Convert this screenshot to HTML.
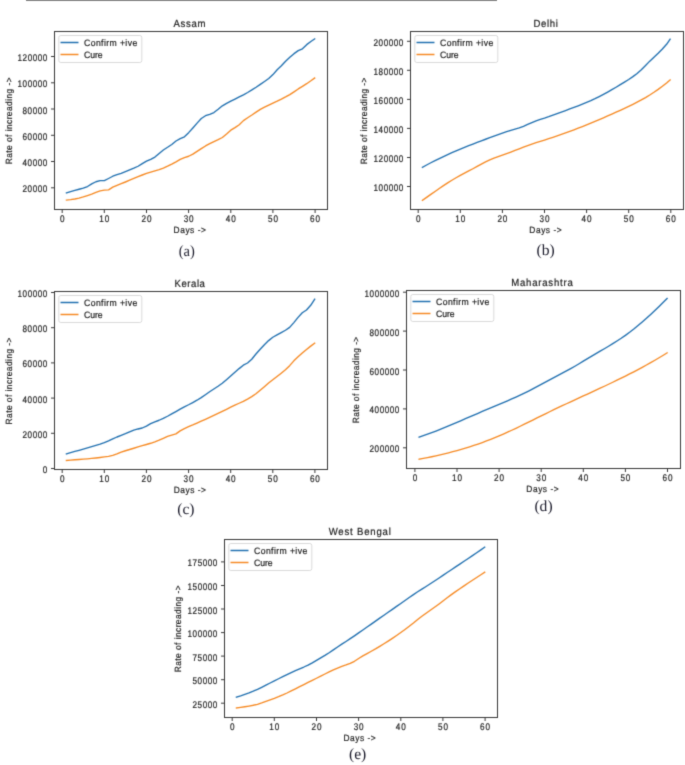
<!DOCTYPE html>
<html><head><meta charset="utf-8"><title>Figure</title>
<style>
html,body{margin:0;padding:0;background:#fff;}
body{width:685px;height:765px;overflow:hidden;}
svg{display:block;text-rendering:geometricPrecision;}
text{font-family:"Liberation Sans", sans-serif;fill:#222;stroke:#222;stroke-width:0.2px;}
.cap{font-family:"Liberation Serif", serif;fill:#1a1a2a;stroke:none;}
</style></head>
<body>
<svg width="685" height="765" viewBox="0 0 685 765">
<defs><filter id="soft" x="0" y="0" width="685" height="765" filterUnits="userSpaceOnUse" color-interpolation-filters="sRGB"><feConvolveMatrix order="3" kernelMatrix="0.0192 0.1001 0.0192 0.1001 0.5228 0.1001 0.0192 0.1001 0.0192" divisor="1" edgeMode="duplicate" preserveAlpha="true"/></filter></defs>
<g filter="url(#soft)" id="root">
<rect x="0" y="0" width="685" height="765" fill="#fff"/>
<line x1="26" y1="0.5" x2="497" y2="0.5" stroke="#7f7f7f" stroke-width="1.1"/>
<g id="pa">
<polyline points="66.42,192.85 70.63,191.61 74.84,190.37 79.06,189.27 83.28,188.12 87.49,186.51 91.71,183.85 95.92,181.75 100.13,180.70 104.35,180.67 108.56,178.51 112.78,176.23 117.00,174.66 121.21,173.27 125.43,171.62 129.64,169.88 133.86,168.18 138.07,166.26 142.29,163.58 146.50,161.15 150.72,159.33 154.93,157.05 159.14,153.40 163.36,149.95 167.57,147.29 171.79,144.44 176.00,140.97 180.22,138.57 184.44,136.80 188.65,132.67 192.87,127.97 197.08,123.13 201.30,118.54 205.51,115.71 209.73,114.33 213.94,112.56 218.15,109.31 222.37,105.82 226.58,103.34 230.80,101.17 235.01,99.03 239.23,96.97 243.44,94.81 247.66,92.47 251.88,89.94 256.09,87.22 260.31,84.33 264.52,81.47 268.74,78.52 272.95,74.59 277.17,69.75 281.38,65.81 285.59,61.30 289.81,57.33 294.02,53.66 298.24,50.67 302.45,48.83 306.67,44.66 310.88,41.51 314.70,38.90" fill="none" stroke="#2170b0" stroke-width="1.35" stroke-linejoin="round" stroke-linecap="square"/>
<polyline points="66.42,200.07 70.63,199.65 74.84,199.03 79.06,198.08 83.28,196.91 87.49,195.53 91.71,194.08 95.92,192.41 100.13,190.89 104.35,190.18 108.56,189.83 112.78,187.19 117.00,185.29 121.21,183.70 125.43,182.00 129.64,180.23 133.86,178.46 138.07,176.72 142.29,175.00 146.50,173.43 150.72,172.09 154.93,170.88 159.14,169.60 163.36,168.09 167.57,166.22 171.79,164.15 176.00,161.86 180.22,159.44 184.44,157.59 188.65,156.24 192.87,154.14 197.08,151.32 201.30,148.60 205.51,145.95 209.73,143.72 213.94,141.68 218.15,139.70 222.37,137.51 226.58,134.01 230.80,130.17 235.01,127.57 239.23,124.81 243.44,120.62 247.66,117.70 251.88,115.01 256.09,112.12 260.31,109.41 264.52,107.14 268.74,105.07 272.95,103.09 277.17,101.20 281.38,99.16 285.59,96.96 289.81,94.57 294.02,91.82 298.24,88.94 302.45,86.33 306.67,83.69 310.88,80.79 314.70,78.00" fill="none" stroke="#f68a24" stroke-width="1.35" stroke-linejoin="round" stroke-linecap="square"/>
<rect x="54.5" y="31.5" width="273.0" height="178.0" fill="none" stroke="#383838" stroke-width="1"/>
<line x1="62.2" y1="209.5" x2="62.2" y2="213.0" stroke="#383838" stroke-width="1"/>
<text transform="translate(62.20,222.00) scale(0.85,1)" text-anchor="middle" font-size="9.6" textLength="5.86" lengthAdjust="spacing">0</text>
<line x1="104.3" y1="209.5" x2="104.3" y2="213.0" stroke="#383838" stroke-width="1"/>
<text transform="translate(104.35,222.00) scale(0.85,1)" text-anchor="middle" font-size="9.6" textLength="11.72" lengthAdjust="spacing">10</text>
<line x1="146.5" y1="209.5" x2="146.5" y2="213.0" stroke="#383838" stroke-width="1"/>
<text transform="translate(146.50,222.00) scale(0.85,1)" text-anchor="middle" font-size="9.6" textLength="11.72" lengthAdjust="spacing">20</text>
<line x1="188.6" y1="209.5" x2="188.6" y2="213.0" stroke="#383838" stroke-width="1"/>
<text transform="translate(188.65,222.00) scale(0.85,1)" text-anchor="middle" font-size="9.6" textLength="11.72" lengthAdjust="spacing">30</text>
<line x1="230.8" y1="209.5" x2="230.8" y2="213.0" stroke="#383838" stroke-width="1"/>
<text transform="translate(230.80,222.00) scale(0.85,1)" text-anchor="middle" font-size="9.6" textLength="11.72" lengthAdjust="spacing">40</text>
<line x1="272.9" y1="209.5" x2="272.9" y2="213.0" stroke="#383838" stroke-width="1"/>
<text transform="translate(272.95,222.00) scale(0.85,1)" text-anchor="middle" font-size="9.6" textLength="11.72" lengthAdjust="spacing">50</text>
<line x1="315.1" y1="209.5" x2="315.1" y2="213.0" stroke="#383838" stroke-width="1"/>
<text transform="translate(315.10,222.00) scale(0.85,1)" text-anchor="middle" font-size="9.6" textLength="11.72" lengthAdjust="spacing">60</text>
<line x1="51.0" y1="187.8" x2="54.5" y2="187.8" stroke="#383838" stroke-width="1"/>
<text transform="translate(47.40,192.30) scale(0.85,1)" text-anchor="end" font-size="9.6" textLength="29.29" lengthAdjust="spacing">20000</text>
<line x1="51.0" y1="161.5" x2="54.5" y2="161.5" stroke="#383838" stroke-width="1"/>
<text transform="translate(47.40,166.04) scale(0.85,1)" text-anchor="end" font-size="9.6" textLength="29.29" lengthAdjust="spacing">40000</text>
<line x1="51.0" y1="135.3" x2="54.5" y2="135.3" stroke="#383838" stroke-width="1"/>
<text transform="translate(47.40,139.78) scale(0.85,1)" text-anchor="end" font-size="9.6" textLength="29.29" lengthAdjust="spacing">60000</text>
<line x1="51.0" y1="109.0" x2="54.5" y2="109.0" stroke="#383838" stroke-width="1"/>
<text transform="translate(47.40,113.52) scale(0.85,1)" text-anchor="end" font-size="9.6" textLength="29.29" lengthAdjust="spacing">80000</text>
<line x1="51.0" y1="82.8" x2="54.5" y2="82.8" stroke="#383838" stroke-width="1"/>
<text transform="translate(47.40,87.26) scale(0.85,1)" text-anchor="end" font-size="9.6" textLength="35.15" lengthAdjust="spacing">100000</text>
<line x1="51.0" y1="56.5" x2="54.5" y2="56.5" stroke="#383838" stroke-width="1"/>
<text transform="translate(47.40,61.00) scale(0.85,1)" text-anchor="end" font-size="9.6" textLength="35.15" lengthAdjust="spacing">120000</text>
<text transform="translate(189.50,26.60) scale(0.93,1)" text-anchor="middle" font-size="10.3" textLength="34.30" lengthAdjust="spacing">Assam</text>
<text transform="translate(189.75,232.80) scale(0.93,1)" text-anchor="middle" font-size="9.0" textLength="34.73" lengthAdjust="spacing">Days -&gt;</text>
<text transform="translate(11.90,120.85) rotate(-90) scale(0.93,1)" text-anchor="middle" font-size="9.0" textLength="93.33" lengthAdjust="spacing">Rate of increading -&gt;</text>
<rect x="58.8" y="35.5" width="83" height="27" rx="2" fill="#fff" fill-opacity="0.8" stroke="#d0d0d0" stroke-width="0.8"/>
<line x1="60.5" y1="42.5" x2="78.5" y2="42.5" stroke="#2170b0" stroke-width="1.5"/>
<line x1="60.5" y1="54.5" x2="78.5" y2="54.5" stroke="#f68a24" stroke-width="1.5"/>
<text transform="translate(84.10,45.80) scale(0.93,1)" font-size="9.3" textLength="57.10" lengthAdjust="spacing">Confirm +ive</text>
<text transform="translate(84.10,57.90) scale(0.93,1)" font-size="9.3" textLength="19.78" lengthAdjust="spacing">Cure</text>
<text transform="translate(186.70,256.10) scale(0.93,1)" text-anchor="middle" font-size="15.6" class="cap">(a)</text>
</g>
<g id="pb">
<polyline points="422.41,167.35 426.62,165.01 430.83,162.76 435.04,160.60 439.25,158.53 443.46,156.52 447.67,154.58 451.88,152.71 456.09,150.89 460.30,149.13 464.51,147.41 468.72,145.72 472.93,144.07 477.14,142.45 481.35,140.84 485.56,139.25 489.77,137.67 493.98,136.09 498.19,134.53 502.40,133.03 506.61,131.61 510.82,130.31 515.03,129.15 519.24,127.91 523.45,126.32 527.66,124.47 531.87,122.57 536.08,120.79 540.29,119.30 544.50,118.04 548.71,116.66 552.92,115.14 557.13,113.58 561.34,112.04 565.55,110.51 569.76,108.97 573.97,107.41 578.18,105.81 582.39,104.16 586.60,102.43 590.81,100.60 595.02,98.65 599.23,96.56 603.44,94.36 607.65,92.05 611.86,89.66 616.07,87.21 620.28,84.70 624.49,82.15 628.70,79.51 632.91,76.65 637.12,73.42 641.33,69.69 645.54,65.45 649.75,61.15 653.96,57.14 658.17,53.21 662.38,49.07 666.59,44.28 670.10,39.27" fill="none" stroke="#2170b0" stroke-width="1.35" stroke-linejoin="round" stroke-linecap="square"/>
<polyline points="422.41,200.38 426.62,197.41 430.83,194.42 435.04,191.44 439.25,188.51 443.46,185.64 447.67,182.87 451.88,180.23 456.09,177.74 460.30,175.41 464.51,173.17 468.72,170.97 472.93,168.74 477.14,166.43 481.35,164.09 485.56,161.92 489.77,159.98 493.98,158.24 498.19,156.64 502.40,155.11 506.61,153.60 510.82,152.06 515.03,150.44 519.24,148.79 523.45,147.14 527.66,145.54 531.87,144.03 536.08,142.64 540.29,141.34 544.50,140.05 548.71,138.73 552.92,137.36 557.13,135.94 561.34,134.48 565.55,132.97 569.76,131.43 573.97,129.84 578.18,128.22 582.39,126.56 586.60,124.86 590.81,123.14 595.02,121.38 599.23,119.60 603.44,117.79 607.65,115.96 611.86,114.11 616.07,112.23 620.28,110.34 624.49,108.41 628.70,106.43 632.91,104.37 637.12,102.22 641.33,99.96 645.54,97.56 649.75,95.01 653.96,92.29 658.17,89.39 662.38,86.27 666.59,82.92 670.10,79.94" fill="none" stroke="#f68a24" stroke-width="1.35" stroke-linejoin="round" stroke-linecap="square"/>
<rect x="410.5" y="31.5" width="273.0" height="178.0" fill="none" stroke="#383838" stroke-width="1"/>
<line x1="418.2" y1="209.5" x2="418.2" y2="213.0" stroke="#383838" stroke-width="1"/>
<text transform="translate(418.20,222.00) scale(0.85,1)" text-anchor="middle" font-size="9.6" textLength="5.86" lengthAdjust="spacing">0</text>
<line x1="460.3" y1="209.5" x2="460.3" y2="213.0" stroke="#383838" stroke-width="1"/>
<text transform="translate(460.30,222.00) scale(0.85,1)" text-anchor="middle" font-size="9.6" textLength="11.72" lengthAdjust="spacing">10</text>
<line x1="502.4" y1="209.5" x2="502.4" y2="213.0" stroke="#383838" stroke-width="1"/>
<text transform="translate(502.40,222.00) scale(0.85,1)" text-anchor="middle" font-size="9.6" textLength="11.72" lengthAdjust="spacing">20</text>
<line x1="544.5" y1="209.5" x2="544.5" y2="213.0" stroke="#383838" stroke-width="1"/>
<text transform="translate(544.50,222.00) scale(0.85,1)" text-anchor="middle" font-size="9.6" textLength="11.72" lengthAdjust="spacing">30</text>
<line x1="586.6" y1="209.5" x2="586.6" y2="213.0" stroke="#383838" stroke-width="1"/>
<text transform="translate(586.60,222.00) scale(0.85,1)" text-anchor="middle" font-size="9.6" textLength="11.72" lengthAdjust="spacing">40</text>
<line x1="628.7" y1="209.5" x2="628.7" y2="213.0" stroke="#383838" stroke-width="1"/>
<text transform="translate(628.70,222.00) scale(0.85,1)" text-anchor="middle" font-size="9.6" textLength="11.72" lengthAdjust="spacing">50</text>
<line x1="670.8" y1="209.5" x2="670.8" y2="213.0" stroke="#383838" stroke-width="1"/>
<text transform="translate(670.80,222.00) scale(0.85,1)" text-anchor="middle" font-size="9.6" textLength="11.72" lengthAdjust="spacing">60</text>
<line x1="407.0" y1="186.5" x2="410.5" y2="186.5" stroke="#383838" stroke-width="1"/>
<text transform="translate(403.40,191.00) scale(0.85,1)" text-anchor="end" font-size="9.6" textLength="35.15" lengthAdjust="spacing">100000</text>
<line x1="407.0" y1="157.5" x2="410.5" y2="157.5" stroke="#383838" stroke-width="1"/>
<text transform="translate(403.40,161.96) scale(0.85,1)" text-anchor="end" font-size="9.6" textLength="35.15" lengthAdjust="spacing">120000</text>
<line x1="407.0" y1="128.4" x2="410.5" y2="128.4" stroke="#383838" stroke-width="1"/>
<text transform="translate(403.40,132.92) scale(0.85,1)" text-anchor="end" font-size="9.6" textLength="35.15" lengthAdjust="spacing">140000</text>
<line x1="407.0" y1="99.4" x2="410.5" y2="99.4" stroke="#383838" stroke-width="1"/>
<text transform="translate(403.40,103.88) scale(0.85,1)" text-anchor="end" font-size="9.6" textLength="35.15" lengthAdjust="spacing">160000</text>
<line x1="407.0" y1="70.3" x2="410.5" y2="70.3" stroke="#383838" stroke-width="1"/>
<text transform="translate(403.40,74.84) scale(0.85,1)" text-anchor="end" font-size="9.6" textLength="35.15" lengthAdjust="spacing">180000</text>
<line x1="407.0" y1="41.3" x2="410.5" y2="41.3" stroke="#383838" stroke-width="1"/>
<text transform="translate(403.40,45.80) scale(0.85,1)" text-anchor="end" font-size="9.6" textLength="35.15" lengthAdjust="spacing">200000</text>
<text transform="translate(545.70,26.60) scale(0.93,1)" text-anchor="middle" font-size="10.3" textLength="26.13" lengthAdjust="spacing">Delhi</text>
<text transform="translate(545.50,232.90) scale(0.93,1)" text-anchor="middle" font-size="9.0" textLength="34.73" lengthAdjust="spacing">Days -&gt;</text>
<text transform="translate(367.20,120.90) rotate(-90) scale(0.93,1)" text-anchor="middle" font-size="9.0" textLength="93.33" lengthAdjust="spacing">Rate of increading -&gt;</text>
<rect x="414.8" y="35.5" width="83" height="27" rx="2" fill="#fff" fill-opacity="0.8" stroke="#d0d0d0" stroke-width="0.8"/>
<line x1="416.5" y1="42.5" x2="434.5" y2="42.5" stroke="#2170b0" stroke-width="1.5"/>
<line x1="416.5" y1="54.5" x2="434.5" y2="54.5" stroke="#f68a24" stroke-width="1.5"/>
<text transform="translate(440.10,45.80) scale(0.93,1)" font-size="9.3" textLength="57.10" lengthAdjust="spacing">Confirm +ive</text>
<text transform="translate(440.10,57.90) scale(0.93,1)" font-size="9.3" textLength="19.78" lengthAdjust="spacing">Cure</text>
<text transform="translate(545.70,254.90)" text-anchor="middle" font-size="15.6" class="cap">(b)</text>
</g>
<g id="pc">
<polyline points="66.41,453.86 70.62,452.67 74.84,451.47 79.05,450.28 83.26,449.09 87.47,447.88 91.68,446.64 95.90,445.40 100.11,444.12 104.32,442.69 108.53,440.92 112.74,438.87 116.96,437.00 121.17,435.31 125.38,433.65 129.59,431.84 133.80,430.11 138.02,428.97 142.23,428.00 146.44,426.05 150.65,423.70 154.86,421.85 159.08,420.25 163.29,418.44 167.50,416.26 171.71,413.94 175.92,411.54 180.14,409.08 184.35,406.80 188.56,404.74 192.77,402.53 196.98,400.21 201.20,397.67 205.41,394.75 209.62,391.73 213.83,388.97 218.04,386.26 222.26,383.21 226.47,379.67 230.68,375.99 234.89,372.27 239.10,368.61 243.32,365.18 247.53,363.00 251.74,359.23 255.95,353.98 260.16,349.25 264.38,344.72 268.59,340.60 272.80,337.26 277.01,334.88 281.22,332.55 285.44,330.26 289.65,327.34 293.86,322.60 298.07,317.37 302.28,312.81 306.50,310.00 310.71,305.30 314.70,299.20" fill="none" stroke="#2170b0" stroke-width="1.35" stroke-linejoin="round" stroke-linecap="square"/>
<polyline points="66.41,460.46 70.62,460.13 74.84,459.79 79.05,459.46 83.26,459.13 87.47,458.80 91.68,458.41 95.90,457.98 100.11,457.48 104.32,456.92 108.53,456.31 112.74,455.46 116.96,453.86 121.17,452.08 125.38,450.74 129.59,449.52 133.80,448.26 138.02,446.97 142.23,445.70 146.44,444.50 150.65,443.27 154.86,441.83 159.08,440.20 163.29,438.32 167.50,436.34 171.71,435.08 175.92,433.88 180.14,430.88 184.35,428.56 188.56,426.70 192.77,424.94 196.98,423.06 201.20,421.19 205.41,419.30 209.62,417.37 213.83,415.41 218.04,413.42 222.26,411.39 226.47,409.33 230.68,407.22 234.89,405.15 239.10,403.25 243.32,401.34 247.53,399.14 251.74,396.65 255.95,393.79 260.16,390.25 264.38,386.65 268.59,383.09 272.80,379.78 277.01,376.51 281.22,373.17 285.44,369.73 289.65,365.67 293.86,360.85 298.07,356.80 302.28,353.10 306.50,349.55 310.71,346.15 314.70,343.10" fill="none" stroke="#f68a24" stroke-width="1.35" stroke-linejoin="round" stroke-linecap="square"/>
<rect x="54.5" y="291.5" width="273.0" height="178.0" fill="none" stroke="#383838" stroke-width="1"/>
<line x1="62.2" y1="469.5" x2="62.2" y2="473.0" stroke="#383838" stroke-width="1"/>
<text transform="translate(62.20,482.00) scale(0.85,1)" text-anchor="middle" font-size="9.6" textLength="5.86" lengthAdjust="spacing">0</text>
<line x1="104.3" y1="469.5" x2="104.3" y2="473.0" stroke="#383838" stroke-width="1"/>
<text transform="translate(104.32,482.00) scale(0.85,1)" text-anchor="middle" font-size="9.6" textLength="11.72" lengthAdjust="spacing">10</text>
<line x1="146.4" y1="469.5" x2="146.4" y2="473.0" stroke="#383838" stroke-width="1"/>
<text transform="translate(146.44,482.00) scale(0.85,1)" text-anchor="middle" font-size="9.6" textLength="11.72" lengthAdjust="spacing">20</text>
<line x1="188.6" y1="469.5" x2="188.6" y2="473.0" stroke="#383838" stroke-width="1"/>
<text transform="translate(188.56,482.00) scale(0.85,1)" text-anchor="middle" font-size="9.6" textLength="11.72" lengthAdjust="spacing">30</text>
<line x1="230.7" y1="469.5" x2="230.7" y2="473.0" stroke="#383838" stroke-width="1"/>
<text transform="translate(230.68,482.00) scale(0.85,1)" text-anchor="middle" font-size="9.6" textLength="11.72" lengthAdjust="spacing">40</text>
<line x1="272.8" y1="469.5" x2="272.8" y2="473.0" stroke="#383838" stroke-width="1"/>
<text transform="translate(272.80,482.00) scale(0.85,1)" text-anchor="middle" font-size="9.6" textLength="11.72" lengthAdjust="spacing">50</text>
<line x1="314.9" y1="469.5" x2="314.9" y2="473.0" stroke="#383838" stroke-width="1"/>
<text transform="translate(314.92,482.00) scale(0.85,1)" text-anchor="middle" font-size="9.6" textLength="11.72" lengthAdjust="spacing">60</text>
<line x1="51.0" y1="468.5" x2="54.5" y2="468.5" stroke="#383838" stroke-width="1"/>
<text transform="translate(47.40,473.00) scale(0.85,1)" text-anchor="end" font-size="9.6" textLength="5.86" lengthAdjust="spacing">0</text>
<line x1="51.0" y1="433.3" x2="54.5" y2="433.3" stroke="#383838" stroke-width="1"/>
<text transform="translate(47.40,437.80) scale(0.85,1)" text-anchor="end" font-size="9.6" textLength="29.29" lengthAdjust="spacing">20000</text>
<line x1="51.0" y1="398.1" x2="54.5" y2="398.1" stroke="#383838" stroke-width="1"/>
<text transform="translate(47.40,402.60) scale(0.85,1)" text-anchor="end" font-size="9.6" textLength="29.29" lengthAdjust="spacing">40000</text>
<line x1="51.0" y1="362.9" x2="54.5" y2="362.9" stroke="#383838" stroke-width="1"/>
<text transform="translate(47.40,367.40) scale(0.85,1)" text-anchor="end" font-size="9.6" textLength="29.29" lengthAdjust="spacing">60000</text>
<line x1="51.0" y1="327.7" x2="54.5" y2="327.7" stroke="#383838" stroke-width="1"/>
<text transform="translate(47.40,332.20) scale(0.85,1)" text-anchor="end" font-size="9.6" textLength="29.29" lengthAdjust="spacing">80000</text>
<line x1="51.0" y1="292.5" x2="54.5" y2="292.5" stroke="#383838" stroke-width="1"/>
<text transform="translate(47.40,297.00) scale(0.85,1)" text-anchor="end" font-size="9.6" textLength="35.15" lengthAdjust="spacing">100000</text>
<text transform="translate(189.70,286.50) scale(0.93,1)" text-anchor="middle" font-size="10.3" textLength="32.80" lengthAdjust="spacing">Kerala</text>
<text transform="translate(189.85,492.90) scale(0.93,1)" text-anchor="middle" font-size="9.0" textLength="34.73" lengthAdjust="spacing">Days -&gt;</text>
<text transform="translate(11.70,380.95) rotate(-90) scale(0.93,1)" text-anchor="middle" font-size="9.0" textLength="93.44" lengthAdjust="spacing">Rate of increading -&gt;</text>
<rect x="58.8" y="295.5" width="83" height="27" rx="2" fill="#fff" fill-opacity="0.8" stroke="#d0d0d0" stroke-width="0.8"/>
<line x1="60.5" y1="302.5" x2="78.5" y2="302.5" stroke="#2170b0" stroke-width="1.5"/>
<line x1="60.5" y1="314.5" x2="78.5" y2="314.5" stroke="#f68a24" stroke-width="1.5"/>
<text transform="translate(84.10,305.80) scale(0.93,1)" font-size="9.3" textLength="57.10" lengthAdjust="spacing">Confirm +ive</text>
<text transform="translate(84.10,317.90) scale(0.93,1)" font-size="9.3" textLength="19.78" lengthAdjust="spacing">Cure</text>
<text transform="translate(185.85,514.10)" text-anchor="middle" font-size="15.6" class="cap">(c)</text>
</g>
<g id="pd">
<polyline points="419.11,437.17 423.32,435.72 427.53,434.20 431.74,432.63 435.95,431.01 440.16,429.35 444.37,427.65 448.58,425.91 452.79,424.15 457.00,422.36 461.21,420.55 465.42,418.74 469.63,416.92 473.84,415.09 478.05,413.28 482.26,411.47 486.47,409.67 490.68,407.90 494.89,406.14 499.10,404.39 503.31,402.62 507.52,400.82 511.73,398.99 515.94,397.11 520.15,395.17 524.36,393.15 528.57,391.05 532.78,388.86 536.99,386.62 541.20,384.34 545.41,382.06 549.62,379.79 553.83,377.55 558.04,375.36 562.25,373.17 566.46,370.95 570.67,368.65 574.88,366.25 579.09,363.75 583.30,361.19 587.51,358.62 591.72,356.08 595.93,353.60 600.14,351.15 604.35,348.71 608.56,346.23 612.77,343.69 616.98,341.05 621.19,338.29 625.40,335.36 629.61,332.26 633.82,329.00 638.03,325.58 642.24,322.02 646.45,318.32 650.66,314.49 654.87,310.55 659.08,306.50 663.29,302.35 667.10,298.52" fill="none" stroke="#2170b0" stroke-width="1.35" stroke-linejoin="round" stroke-linecap="square"/>
<polyline points="419.11,459.24 423.32,458.44 427.53,457.61 431.74,456.74 435.95,455.82 440.16,454.87 444.37,453.87 448.58,452.82 452.79,451.72 457.00,450.58 461.21,449.38 465.42,448.12 469.63,446.81 473.84,445.45 478.05,444.02 482.26,442.53 486.47,440.97 490.68,439.35 494.89,437.67 499.10,435.91 503.31,434.08 507.52,432.20 511.73,430.26 515.94,428.27 520.15,426.25 524.36,424.20 528.57,422.13 532.78,420.05 536.99,417.96 541.20,415.87 545.41,413.79 549.62,411.74 553.83,409.70 558.04,407.70 562.25,405.71 566.46,403.74 570.67,401.79 574.88,399.85 579.09,397.91 583.30,395.98 587.51,394.05 591.72,392.11 595.93,390.17 600.14,388.22 604.35,386.25 608.56,384.26 612.77,382.26 616.98,380.22 621.19,378.16 625.40,376.07 629.61,373.95 633.82,371.78 638.03,369.57 642.24,367.31 646.45,365.01 650.66,362.65 654.87,360.23 659.08,357.76 663.29,355.22 667.10,352.86" fill="none" stroke="#f68a24" stroke-width="1.35" stroke-linejoin="round" stroke-linecap="square"/>
<rect x="406.5" y="290.5" width="274.0" height="178.0" fill="none" stroke="#383838" stroke-width="1"/>
<line x1="414.9" y1="468.5" x2="414.9" y2="472.0" stroke="#383838" stroke-width="1"/>
<text transform="translate(414.90,481.00) scale(0.85,1)" text-anchor="middle" font-size="9.6" textLength="5.86" lengthAdjust="spacing">0</text>
<line x1="457.0" y1="468.5" x2="457.0" y2="472.0" stroke="#383838" stroke-width="1"/>
<text transform="translate(457.00,481.00) scale(0.85,1)" text-anchor="middle" font-size="9.6" textLength="11.72" lengthAdjust="spacing">10</text>
<line x1="499.1" y1="468.5" x2="499.1" y2="472.0" stroke="#383838" stroke-width="1"/>
<text transform="translate(499.10,481.00) scale(0.85,1)" text-anchor="middle" font-size="9.6" textLength="11.72" lengthAdjust="spacing">20</text>
<line x1="541.2" y1="468.5" x2="541.2" y2="472.0" stroke="#383838" stroke-width="1"/>
<text transform="translate(541.20,481.00) scale(0.85,1)" text-anchor="middle" font-size="9.6" textLength="11.72" lengthAdjust="spacing">30</text>
<line x1="583.3" y1="468.5" x2="583.3" y2="472.0" stroke="#383838" stroke-width="1"/>
<text transform="translate(583.30,481.00) scale(0.85,1)" text-anchor="middle" font-size="9.6" textLength="11.72" lengthAdjust="spacing">40</text>
<line x1="625.4" y1="468.5" x2="625.4" y2="472.0" stroke="#383838" stroke-width="1"/>
<text transform="translate(625.40,481.00) scale(0.85,1)" text-anchor="middle" font-size="9.6" textLength="11.72" lengthAdjust="spacing">50</text>
<line x1="667.5" y1="468.5" x2="667.5" y2="472.0" stroke="#383838" stroke-width="1"/>
<text transform="translate(667.50,481.00) scale(0.85,1)" text-anchor="middle" font-size="9.6" textLength="11.72" lengthAdjust="spacing">60</text>
<line x1="403.0" y1="447.8" x2="406.5" y2="447.8" stroke="#383838" stroke-width="1"/>
<text transform="translate(399.40,452.30) scale(0.85,1)" text-anchor="end" font-size="9.6" textLength="35.15" lengthAdjust="spacing">200000</text>
<line x1="403.0" y1="408.9" x2="406.5" y2="408.9" stroke="#383838" stroke-width="1"/>
<text transform="translate(399.40,413.40) scale(0.85,1)" text-anchor="end" font-size="9.6" textLength="35.15" lengthAdjust="spacing">400000</text>
<line x1="403.0" y1="370.0" x2="406.5" y2="370.0" stroke="#383838" stroke-width="1"/>
<text transform="translate(399.40,374.50) scale(0.85,1)" text-anchor="end" font-size="9.6" textLength="35.15" lengthAdjust="spacing">600000</text>
<line x1="403.0" y1="331.1" x2="406.5" y2="331.1" stroke="#383838" stroke-width="1"/>
<text transform="translate(399.40,335.60) scale(0.85,1)" text-anchor="end" font-size="9.6" textLength="35.15" lengthAdjust="spacing">800000</text>
<line x1="403.0" y1="292.2" x2="406.5" y2="292.2" stroke="#383838" stroke-width="1"/>
<text transform="translate(399.40,296.70) scale(0.85,1)" text-anchor="end" font-size="9.6" textLength="41.01" lengthAdjust="spacing">1000000</text>
<text transform="translate(542.00,285.80) scale(0.93,1)" text-anchor="middle" font-size="10.3" textLength="66.24" lengthAdjust="spacing">Maharashtra</text>
<text transform="translate(542.50,492.30) scale(0.93,1)" text-anchor="middle" font-size="9.0" textLength="34.73" lengthAdjust="spacing">Days -&gt;</text>
<text transform="translate(359.10,380.05) rotate(-90) scale(0.93,1)" text-anchor="middle" font-size="9.0" textLength="93.12" lengthAdjust="spacing">Rate of increading -&gt;</text>
<rect x="410.8" y="294.5" width="83" height="27" rx="2" fill="#fff" fill-opacity="0.8" stroke="#d0d0d0" stroke-width="0.8"/>
<line x1="412.5" y1="301.5" x2="430.5" y2="301.5" stroke="#2170b0" stroke-width="1.5"/>
<line x1="412.5" y1="313.5" x2="430.5" y2="313.5" stroke="#f68a24" stroke-width="1.5"/>
<text transform="translate(436.10,304.80) scale(0.93,1)" font-size="9.3" textLength="57.10" lengthAdjust="spacing">Confirm +ive</text>
<text transform="translate(436.10,316.90) scale(0.93,1)" font-size="9.3" textLength="19.78" lengthAdjust="spacing">Cure</text>
<text transform="translate(543.50,510.60)" text-anchor="middle" font-size="15.6" class="cap">(d)</text>
</g>
<g id="pe">
<polyline points="236.41,697.15 240.63,695.83 244.84,694.39 249.06,692.85 253.27,691.17 257.49,689.34 261.70,687.27 265.92,685.09 270.13,682.98 274.35,680.87 278.56,678.77 282.78,676.66 287.00,674.59 291.21,672.61 295.43,670.68 299.64,668.80 303.86,667.01 308.07,665.07 312.28,662.81 316.50,660.37 320.71,657.93 324.93,655.43 329.14,652.79 333.36,649.89 337.57,646.96 341.79,644.18 346.00,641.47 350.22,638.68 354.43,635.83 358.65,632.93 362.87,630.01 367.08,627.07 371.29,624.10 375.51,621.13 379.73,618.17 383.94,615.23 388.15,612.29 392.37,609.36 396.58,606.42 400.80,603.47 405.01,600.48 409.23,597.47 413.44,594.57 417.66,591.80 421.88,589.12 426.09,586.47 430.30,583.78 434.52,581.01 438.74,578.21 442.95,575.38 447.16,572.54 451.38,569.71 455.59,566.90 459.81,564.09 464.02,561.28 468.24,558.44 472.45,555.58 476.67,552.71 480.88,549.83 484.70,547.20" fill="none" stroke="#2170b0" stroke-width="1.35" stroke-linejoin="round" stroke-linecap="square"/>
<polyline points="236.41,708.03 240.63,707.44 244.84,706.78 249.06,706.06 253.27,705.27 257.49,704.29 261.70,702.92 265.92,701.35 270.13,699.87 274.35,698.35 278.56,696.71 282.78,694.91 287.00,692.99 291.21,690.95 295.43,688.80 299.64,686.68 303.86,684.57 308.07,682.47 312.28,680.36 316.50,678.25 320.71,676.13 324.93,674.00 329.14,671.95 333.36,669.95 337.57,668.05 341.79,666.40 346.00,664.94 350.22,663.36 354.43,661.29 358.65,658.46 362.87,655.92 367.08,653.57 371.29,651.25 375.51,648.87 379.73,646.34 383.94,643.75 388.15,641.08 392.37,638.32 396.58,635.46 400.80,632.50 405.01,629.45 409.23,626.32 413.44,623.05 417.66,619.59 421.88,616.27 426.09,613.21 430.30,610.26 434.52,607.28 438.74,604.17 442.95,600.97 447.16,597.77 451.38,594.65 455.59,591.65 459.81,588.74 464.02,585.87 468.24,583.04 472.45,580.24 476.67,577.47 480.88,574.74 484.70,572.30" fill="none" stroke="#f68a24" stroke-width="1.35" stroke-linejoin="round" stroke-linecap="square"/>
<rect x="224.5" y="539.5" width="273.0" height="178.0" fill="none" stroke="#383838" stroke-width="1"/>
<line x1="232.2" y1="717.5" x2="232.2" y2="721.0" stroke="#383838" stroke-width="1"/>
<text transform="translate(232.20,730.00) scale(0.85,1)" text-anchor="middle" font-size="9.6" textLength="5.86" lengthAdjust="spacing">0</text>
<line x1="274.3" y1="717.5" x2="274.3" y2="721.0" stroke="#383838" stroke-width="1"/>
<text transform="translate(274.35,730.00) scale(0.85,1)" text-anchor="middle" font-size="9.6" textLength="11.72" lengthAdjust="spacing">10</text>
<line x1="316.5" y1="717.5" x2="316.5" y2="721.0" stroke="#383838" stroke-width="1"/>
<text transform="translate(316.50,730.00) scale(0.85,1)" text-anchor="middle" font-size="9.6" textLength="11.72" lengthAdjust="spacing">20</text>
<line x1="358.6" y1="717.5" x2="358.6" y2="721.0" stroke="#383838" stroke-width="1"/>
<text transform="translate(358.65,730.00) scale(0.85,1)" text-anchor="middle" font-size="9.6" textLength="11.72" lengthAdjust="spacing">30</text>
<line x1="400.8" y1="717.5" x2="400.8" y2="721.0" stroke="#383838" stroke-width="1"/>
<text transform="translate(400.80,730.00) scale(0.85,1)" text-anchor="middle" font-size="9.6" textLength="11.72" lengthAdjust="spacing">40</text>
<line x1="442.9" y1="717.5" x2="442.9" y2="721.0" stroke="#383838" stroke-width="1"/>
<text transform="translate(442.95,730.00) scale(0.85,1)" text-anchor="middle" font-size="9.6" textLength="11.72" lengthAdjust="spacing">50</text>
<line x1="485.1" y1="717.5" x2="485.1" y2="721.0" stroke="#383838" stroke-width="1"/>
<text transform="translate(485.10,730.00) scale(0.85,1)" text-anchor="middle" font-size="9.6" textLength="11.72" lengthAdjust="spacing">60</text>
<line x1="221.0" y1="703.2" x2="224.5" y2="703.2" stroke="#383838" stroke-width="1"/>
<text transform="translate(217.40,707.70) scale(0.85,1)" text-anchor="end" font-size="9.6" textLength="29.29" lengthAdjust="spacing">25000</text>
<line x1="221.0" y1="679.7" x2="224.5" y2="679.7" stroke="#383838" stroke-width="1"/>
<text transform="translate(217.40,684.15) scale(0.85,1)" text-anchor="end" font-size="9.6" textLength="29.29" lengthAdjust="spacing">50000</text>
<line x1="221.0" y1="656.1" x2="224.5" y2="656.1" stroke="#383838" stroke-width="1"/>
<text transform="translate(217.40,660.60) scale(0.85,1)" text-anchor="end" font-size="9.6" textLength="29.29" lengthAdjust="spacing">75000</text>
<line x1="221.0" y1="632.6" x2="224.5" y2="632.6" stroke="#383838" stroke-width="1"/>
<text transform="translate(217.40,637.05) scale(0.85,1)" text-anchor="end" font-size="9.6" textLength="35.15" lengthAdjust="spacing">100000</text>
<line x1="221.0" y1="609.0" x2="224.5" y2="609.0" stroke="#383838" stroke-width="1"/>
<text transform="translate(217.40,613.50) scale(0.85,1)" text-anchor="end" font-size="9.6" textLength="35.15" lengthAdjust="spacing">125000</text>
<line x1="221.0" y1="585.5" x2="224.5" y2="585.5" stroke="#383838" stroke-width="1"/>
<text transform="translate(217.40,589.95) scale(0.85,1)" text-anchor="end" font-size="9.6" textLength="35.15" lengthAdjust="spacing">150000</text>
<line x1="221.0" y1="561.9" x2="224.5" y2="561.9" stroke="#383838" stroke-width="1"/>
<text transform="translate(217.40,566.40) scale(0.85,1)" text-anchor="end" font-size="9.6" textLength="35.15" lengthAdjust="spacing">175000</text>
<text transform="translate(359.75,534.90) scale(0.93,1)" text-anchor="middle" font-size="10.3" textLength="66.88" lengthAdjust="spacing">West Bengal</text>
<text transform="translate(359.60,740.80) scale(0.93,1)" text-anchor="middle" font-size="9.0" textLength="34.73" lengthAdjust="spacing">Days -&gt;</text>
<text transform="translate(181.40,628.85) rotate(-90) scale(0.93,1)" text-anchor="middle" font-size="9.0" textLength="93.33" lengthAdjust="spacing">Rate of increading -&gt;</text>
<rect x="228.8" y="543.5" width="83" height="27" rx="2" fill="#fff" fill-opacity="0.8" stroke="#d0d0d0" stroke-width="0.8"/>
<line x1="230.5" y1="550.5" x2="248.5" y2="550.5" stroke="#2170b0" stroke-width="1.5"/>
<line x1="230.5" y1="562.5" x2="248.5" y2="562.5" stroke="#f68a24" stroke-width="1.5"/>
<text transform="translate(254.10,553.80) scale(0.93,1)" font-size="9.3" textLength="57.10" lengthAdjust="spacing">Confirm +ive</text>
<text transform="translate(254.10,565.90) scale(0.93,1)" font-size="9.3" textLength="19.78" lengthAdjust="spacing">Cure</text>
<text transform="translate(357.60,758.60)" text-anchor="middle" font-size="15.6" class="cap">(e)</text>
</g>
</g>
</svg>
</body></html>
